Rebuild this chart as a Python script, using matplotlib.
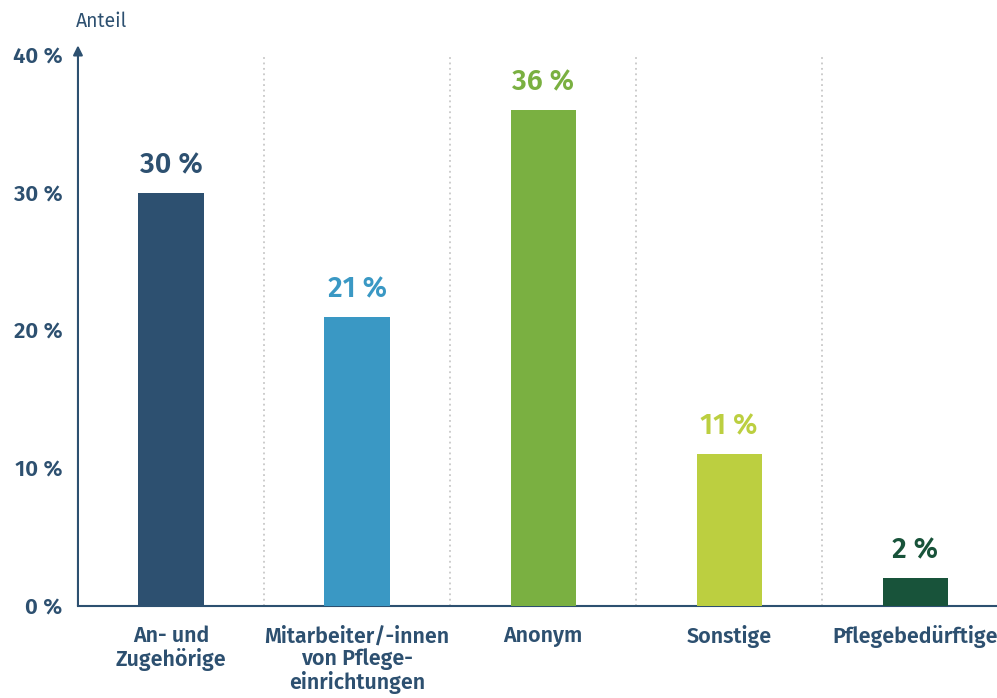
import matplotlib.pyplot as plt

# Daten
kategorien = ['An- und\nZugehörige', 'Mitarbeiter/-innen\nvon Pflege-\neinrichtungen',
              'Anonym', 'Sonstige', 'Pflegebedürftige']
anteile = [30, 21, 36, 11, 2]
farben = ['#2d5070', '#3a98c4', '#7ab041', '#bccf40', '#18533a']
y_ticks = [0, 10, 20, 30, 40]

textfarbe = '#2d5070'
plt.rcParams['font.family'] = ['Fira Sans', 'Open Sans', 'DejaVu Sans']

fig = plt.figure(figsize=(9.97, 6.98), dpi=100)
ax = fig.add_axes([0.0782, 0.1318, 0.9218, 0.7894])

x = range(len(kategorien))
ax.bar(x, anteile, width=0.35, color=farben, zorder=3)

# Wertelabels
for xi, wert, farbe in zip(x, anteile, farben):
    ax.text(xi, wert + 1.0, f'{wert} %', ha='center', va='bottom',
            fontsize=20.5, fontweight='semibold', color=farbe)

# Trennlinien zwischen Kategorien
for s in [0.5, 1.5, 2.5, 3.5]:
    ax.axvline(s, ymin=0, ymax=1, color='#c8c8c8', linestyle=(0, (1, 2)),
               linewidth=1.3, zorder=1)

ax.set_xlim(-0.5, 4.44)
ax.set_ylim(0, 40)

for sp in ['top', 'right', 'left']:
    ax.spines[sp].set_visible(False)
ax.spines['bottom'].set_color(textfarbe)
ax.spines['bottom'].set_linewidth(1.5)

# y-Achse mit Pfeil
ax.annotate('', xy=(-0.5, 40.7), xytext=(-0.5, 0), xycoords='data',
            arrowprops=dict(arrowstyle='-|>', color=textfarbe, lw=1.5,
                            mutation_scale=14, shrinkA=0, shrinkB=0),
            annotation_clip=False)
ax.text(-0.51, 42.0, 'Anteil', ha='left', va='baseline', fontsize=14,
        color=textfarbe)

ax.set_yticks(y_ticks)
ax.set_yticklabels([f'{v} %' for v in y_ticks], fontsize=16,
                   fontweight='semibold', color=textfarbe)
ax.tick_params(axis='y', length=0, pad=11)

ax.set_xticks(list(x))
ax.set_xticklabels(kategorien, fontsize=15.5, fontweight='semibold',
                   color=textfarbe, linespacing=1.08)
ax.tick_params(axis='x', length=0, pad=14)

fig.savefig('out.png', dpi=100)
